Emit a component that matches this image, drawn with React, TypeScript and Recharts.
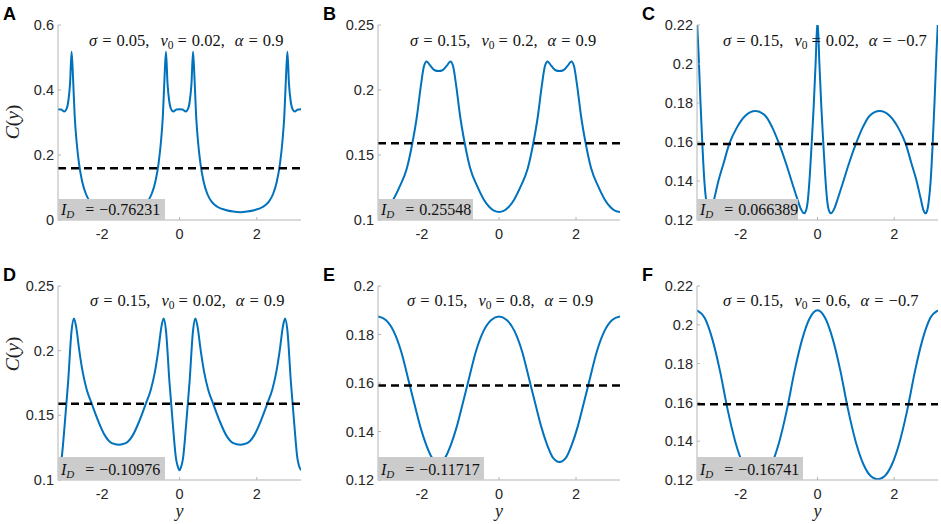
import React from "react";
import { Line, LineChart, ReferenceLine, XAxis, YAxis } from "recharts";

const posA = [-3.1416, -3.06, -2.98, -2.92, -2.87, -2.83, -2.79, -2.75, -2.71, -2.66, -2.6, -2.52, -2.42, -2.3, -2.15, -1.95, -1.75, -1.57, -1.39, -1.19, -0.99, -0.84, -0.72, -0.62, -0.54, -0.48, -0.43, -0.39, -0.35, -0.31, -0.27, -0.22, -0.16, -0.08, 0, 0.08, 0.16, 0.22, 0.27, 0.31, 0.35, 0.39, 0.43, 0.48, 0.54, 0.62, 0.72, 0.84, 0.99, 1.19, 1.39, 1.57, 1.75, 1.95, 2.15, 2.3, 2.42, 2.52, 2.6, 2.66, 2.71, 2.75, 2.79, 2.83, 2.87, 2.92, 2.98, 3.06, 3.1416];
const corrA = [0.341, 0.34, 0.334, 0.342, 0.37, 0.42, 0.518, 0.43, 0.32, 0.24, 0.175, 0.12, 0.08, 0.055, 0.04, 0.031, 0.026, 0.024, 0.026, 0.031, 0.04, 0.055, 0.08, 0.12, 0.175, 0.24, 0.32, 0.43, 0.518, 0.42, 0.37, 0.342, 0.334, 0.34, 0.341, 0.34, 0.334, 0.342, 0.37, 0.42, 0.518, 0.43, 0.32, 0.24, 0.175, 0.12, 0.08, 0.055, 0.04, 0.031, 0.026, 0.024, 0.026, 0.031, 0.04, 0.055, 0.08, 0.12, 0.175, 0.24, 0.32, 0.43, 0.518, 0.42, 0.37, 0.342, 0.334, 0.34, 0.341];

const posB = [-3.1416, -3.02, -2.89, -2.74, -2.58, -2.39, -2.25, -2.13, -2.03, -1.95, -1.88, -1.78, -1.67, -1.57, -1.47, -1.36, -1.26, -1.19, -1.11, -1.01, -0.89, -0.75, -0.56, -0.4, -0.25, -0.12, 0, 0.12, 0.25, 0.4, 0.56, 0.75, 0.89, 1.01, 1.11, 1.19, 1.26, 1.36, 1.47, 1.57, 1.67, 1.78, 1.88, 1.95, 2.03, 2.13, 2.25, 2.39, 2.58, 2.74, 2.89, 3.02, 3.1416];
const corrB = [0.1062, 0.107, 0.11, 0.116, 0.1256, 0.14, 0.159, 0.18, 0.203, 0.218, 0.222, 0.2185, 0.2152, 0.2146, 0.2152, 0.2185, 0.222, 0.218, 0.203, 0.18, 0.159, 0.14, 0.1256, 0.116, 0.11, 0.107, 0.1062, 0.107, 0.11, 0.116, 0.1256, 0.14, 0.159, 0.18, 0.203, 0.218, 0.222, 0.2185, 0.2152, 0.2146, 0.2152, 0.2185, 0.222, 0.218, 0.203, 0.18, 0.159, 0.14, 0.1256, 0.116, 0.11, 0.107, 0.1062];

const posC = [-3.1416, -3.1, -3.05, -3.0, -2.95, -2.9, -2.86, -2.82, -2.76, -2.69, -2.59, -2.45, -2.3, -2.1, -1.88, -1.62, -1.36, -1.18, -1.0, -0.82, -0.66, -0.53, -0.43, -0.35, -0.3, -0.25, -0.2, -0.15, -0.1, -0.05, 0, 0.05, 0.1, 0.15, 0.2, 0.25, 0.3, 0.35, 0.43, 0.53, 0.66, 0.82, 1.0, 1.18, 1.36, 1.62, 1.88, 2.1, 2.3, 2.45, 2.59, 2.69, 2.76, 2.82, 2.86, 2.9, 2.95, 3.0, 3.05, 3.1, 3.1416];
const corrC = [0.2225, 0.205, 0.18, 0.158, 0.14, 0.1295, 0.1248, 0.1234, 0.1252, 0.131, 0.1395, 0.149, 0.159, 0.1675, 0.1735, 0.1759, 0.1735, 0.1675, 0.159, 0.149, 0.139, 0.131, 0.1255, 0.1234, 0.1248, 0.1305, 0.143, 0.16, 0.178, 0.2, 0.2225, 0.2, 0.178, 0.16, 0.143, 0.1305, 0.1248, 0.1234, 0.1255, 0.131, 0.139, 0.149, 0.159, 0.1675, 0.1735, 0.1759, 0.1735, 0.1675, 0.159, 0.149, 0.1395, 0.131, 0.1252, 0.1234, 0.1248, 0.1295, 0.14, 0.158, 0.18, 0.205, 0.2225];

const posD = [-3.1416, -3.09, -3.05, -2.97, -2.88, -2.79, -2.73, -2.67, -2.6, -2.5, -2.4, -2.27, -2.1, -1.93, -1.75, -1.57, -1.39, -1.21, -1.04, -0.87, -0.74, -0.64, -0.54, -0.47, -0.41, -0.35, -0.26, -0.17, -0.09, -0.05, 0, 0.05, 0.09, 0.17, 0.26, 0.35, 0.41, 0.47, 0.54, 0.64, 0.74, 0.87, 1.04, 1.21, 1.39, 1.57, 1.75, 1.93, 2.1, 2.27, 2.4, 2.5, 2.6, 2.67, 2.73, 2.79, 2.88, 2.97, 3.05, 3.09, 3.1416];
const corrD = [0.1075, 0.111, 0.1165, 0.1423, 0.1758, 0.2155, 0.2248, 0.218, 0.202, 0.183, 0.17, 0.159, 0.1455, 0.1345, 0.1285, 0.1273, 0.1285, 0.1345, 0.1455, 0.159, 0.17, 0.183, 0.202, 0.218, 0.2248, 0.2155, 0.1758, 0.1423, 0.1165, 0.111, 0.1075, 0.111, 0.1165, 0.1423, 0.1758, 0.2155, 0.2248, 0.218, 0.202, 0.183, 0.17, 0.159, 0.1455, 0.1345, 0.1285, 0.1273, 0.1285, 0.1345, 0.1455, 0.159, 0.17, 0.183, 0.202, 0.218, 0.2248, 0.2155, 0.1758, 0.1423, 0.1165, 0.111, 0.1075];

const posE = [-3.1416, -2.94, -2.74, -2.54, -2.34, -2.19, -2.04, -1.89, -1.74, -1.57, -1.4, -1.25, -1.1, -0.95, -0.8, -0.6, -0.4, -0.2, 0, 0.2, 0.4, 0.6, 0.8, 0.95, 1.1, 1.25, 1.4, 1.57, 1.74, 1.89, 2.04, 2.19, 2.34, 2.54, 2.74, 2.94, 3.1416];
const corrE = [0.1874, 0.186, 0.1815, 0.173, 0.1605, 0.151, 0.1418, 0.1345, 0.1292, 0.1274, 0.1292, 0.1345, 0.1418, 0.151, 0.1605, 0.173, 0.1815, 0.186, 0.1874, 0.186, 0.1815, 0.173, 0.1605, 0.151, 0.1418, 0.1345, 0.1292, 0.1274, 0.1292, 0.1345, 0.1418, 0.151, 0.1605, 0.173, 0.1815, 0.186, 0.1874];

const posF = [-3.1416, -2.94, -2.74, -2.54, -2.34, -2.14, -1.94, -1.74, -1.57, -1.4, -1.2, -1.0, -0.8, -0.6, -0.4, -0.2, 0, 0.2, 0.4, 0.6, 0.8, 1.0, 1.2, 1.4, 1.57, 1.74, 1.94, 2.14, 2.34, 2.54, 2.74, 2.94, 3.1416];
const corrF = [0.2075, 0.2035, 0.1925, 0.176, 0.156, 0.1395, 0.128, 0.1218, 0.1204, 0.1218, 0.128, 0.1395, 0.156, 0.176, 0.1925, 0.2035, 0.2075, 0.2035, 0.1925, 0.176, 0.156, 0.1395, 0.128, 0.1218, 0.1204, 0.1218, 0.128, 0.1395, 0.156, 0.176, 0.1925, 0.2035, 0.2075];

// 1/(2*pi), the uniform level
const uniformLevel = 0.159;

const xTicks = [-2, 0, 2];
const yTicksA = [0, 0.2, 0.4, 0.6];
const yTicksB = [0.1, 0.15, 0.2, 0.25];
const yTicksC = [0.12, 0.14, 0.16, 0.18, 0.2, 0.22];
const yTicksE = [0.12, 0.14, 0.16, 0.18, 0.2];

const panelLetters = ["A", "B", "C", "D", "E", "F"];
const sigmaLabels = ["0.05", "0.15", "0.15", "0.15", "0.15", "0.15"];
const v0Labels = ["0.02", "0.2", "0.02", "0.02", "0.8", "0.6"];
const alphaLabels = ["0.9", "0.9", "\u22120.7", "0.9", "0.9", "\u22120.7"];
const idLabels = ["\u22120.76231", "0.25548", "0.066389", "\u22120.10976", "\u22120.11717", "\u22120.16741"];

const toRows = (pos: number[], corr: number[]) => pos.map((y, i) => ({ y, c: corr[i] }));

const series = [
  toRows(posA, corrA),
  toRows(posB, corrB),
  toRows(posC, corrC),
  toRows(posD, corrD),
  toRows(posE, corrE),
  toRows(posF, corrF),
];
const domains: [number, number][] = [
  [0, 0.6],
  [0.1, 0.25],
  [0.12, 0.22],
  [0.1, 0.25],
  [0.12, 0.2],
  [0.12, 0.22],
];
const yTicks = [yTicksA, yTicksB, yTicksC, yTicksB, yTicksE, yTicksC];

// plot-area boxes in page pixels
const layout = [
  { left: 58, top: 25, w: 243, h: 195, boxW: 107, boxH: 21, textX: 89 },
  { left: 378, top: 25, w: 242, h: 195, boxW: 95, boxH: 21, textX: 410 },
  { left: 697, top: 25, w: 241, h: 195, boxW: 101, boxH: 21, textX: 723 },
  { left: 58, top: 286, w: 243, h: 194, boxW: 107, boxH: 23, textX: 90 },
  { left: 378, top: 286, w: 242, h: 194, boxW: 106, boxH: 23, textX: 407 },
  { left: 697, top: 286, w: 241, h: 194, boxW: 106, boxH: 23, textX: 723 },
];

const FRAME = "#b4b4b4";
const BLUE = "#0072BD";
const SERIF = "'Liberation Serif', 'Times New Roman', serif";
const SANS = "'Liberation Sans', Arial, sans-serif";
const Y_AXIS_W = 50;
const X_AXIS_H = 30;
const PAD_TOP = 10;
const PAD_RIGHT = 3;

function Panel({ i }: { i: number }) {
  const L = layout[i];
  const tickStyle = { fill: "#262626", fontSize: 14.5, fontFamily: SANS };
  return (
    <div style={{ position: "absolute", left: L.left - Y_AXIS_W, top: L.top - PAD_TOP }}>
      <LineChart
        width={L.w + Y_AXIS_W + PAD_RIGHT}
        height={L.h + PAD_TOP + X_AXIS_H}
        data={series[i]}
        margin={{ top: PAD_TOP, right: PAD_RIGHT, bottom: 0, left: 0 }}
      >
        <XAxis
          dataKey="y"
          type="number"
          domain={[-3.1416, 3.1416]}
          ticks={xTicks}
          allowDataOverflow
          height={X_AXIS_H}
          tickSize={-3}
          tickMargin={12}
          axisLine={{ stroke: FRAME }}
          tickLine={{ stroke: FRAME }}
          tick={tickStyle}
        />
        <XAxis
          xAxisId="top"
          orientation="top"
          type="number"
          domain={[-3.1416, 3.1416]}
          ticks={xTicks}
          allowDataOverflow
          height={0}
          tickSize={-3}
          axisLine={{ stroke: FRAME }}
          tickLine={{ stroke: FRAME }}
          tick={false}
        />
        <YAxis
          type="number"
          domain={domains[i]}
          ticks={yTicks[i]}
          allowDataOverflow
          width={Y_AXIS_W}
          tickSize={-3}
          tickMargin={7}
          axisLine={{ stroke: FRAME }}
          tickLine={{ stroke: FRAME }}
          tick={tickStyle}
        />
        <YAxis
          yAxisId="right"
          orientation="right"
          type="number"
          domain={domains[i]}
          ticks={yTicks[i]}
          allowDataOverflow
          width={0}
          tickSize={-3}
          axisLine={{ stroke: FRAME }}
          tickLine={{ stroke: FRAME }}
          tick={false}
        />
        <Line
          type="monotone"
          dataKey="c"
          stroke={BLUE}
          strokeWidth={2}
          dot={false}
          activeDot={false}
          isAnimationActive={false}
        />
        <ReferenceLine y={uniformLevel} stroke="#000" strokeWidth={2.5} strokeDasharray="8 5" />
      </LineChart>
    </div>
  );
}

function ParamText({ i }: { i: number }) {
  const L = layout[i];
  const y = L.top + (i < 3 ? 20.5 : 19.5);
  return (
    <text x={L.textX} y={y} fontFamily={SERIF} fontSize={16.5} fill="#111">
      <tspan fontStyle="italic">σ</tspan>
      <tspan dx={5}>=</tspan>
      <tspan dx={5}>{sigmaLabels[i]},</tspan>
      <tspan dx={11} fontStyle="italic">v</tspan>
      <tspan fontSize={11.5} dy={3.5}>0</tspan>
      <tspan dx={4} dy={-3.5}>=</tspan>
      <tspan dx={5}>{v0Labels[i]},</tspan>
      <tspan dx={10} fontStyle="italic">α</tspan>
      <tspan dx={5}>=</tspan>
      <tspan dx={5}>{alphaLabels[i]}</tspan>
    </text>
  );
}

function IdBox({ i }: { i: number }) {
  const L = layout[i];
  const bottom = L.top + L.h;
  return (
    <g>
      <rect x={L.left} y={bottom - L.boxH} width={L.boxW} height={L.boxH} fill="#cccccc" />
      <text x={L.left + 3} y={bottom - 5.5} fontFamily={SERIF} fontSize={16} fill="#111">
        <tspan fontStyle="italic">I</tspan>
        <tspan fontStyle="italic" fontSize={11} dy={3.5}>D</tspan>
        <tspan dx={11} dy={-3.5}>=</tspan>
        <tspan dx={5}>{idLabels[i]}</tspan>
      </text>
    </g>
  );
}

export default function App() {
  return (
    <div
      style={{
        position: "absolute",
        left: 0,
        top: 0,
        width: 941,
        height: 524,
        overflow: "hidden",
        background: "#fff",
      }}
    >
      {layout.map((_, i) => (
        <Panel key={i} i={i} />
      ))}
      <svg
        width={941}
        height={524}
        style={{ position: "absolute", left: 0, top: 0, pointerEvents: "none" }}
      >
        {layout.map((L, i) => (
          <g key={i}>
            <text
              x={L.left - 55}
              y={L.top - 5.5}
              fontFamily={SANS}
              fontWeight="bold"
              fontSize={18}
              fill="#000"
            >
              {panelLetters[i]}
            </text>
            <ParamText i={i} />
            <IdBox i={i} />
          </g>
        ))}
        {[122, 354].map((cy, k) => (
          <text
            key={k}
            x={19}
            y={cy}
            transform={`rotate(-90 19 ${cy})`}
            textAnchor="middle"
            fontFamily={SERIF}
            fontSize={19.5}
            fill="#222"
          >
            <tspan fontStyle="italic">C</tspan>(<tspan fontStyle="italic">y</tspan>)
          </text>
        ))}
        {layout.slice(3).map((L, k) => (
          <text
            key={k}
            x={L.left + L.w / 2}
            y={517}
            textAnchor="middle"
            fontFamily={SERIF}
            fontStyle="italic"
            fontSize={18}
            fill="#222"
          >
            y
          </text>
        ))}
      </svg>
    </div>
  );
}
